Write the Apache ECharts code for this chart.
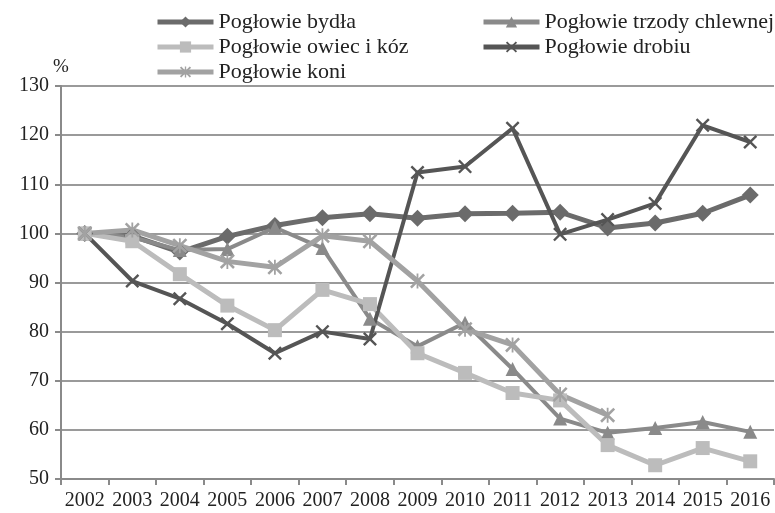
<!DOCTYPE html>
<html><head><meta charset="utf-8">
<script src="https://cdn.jsdelivr.net/npm/echarts@6/dist/echarts.min.js"></script>
<style>html,body{margin:0;padding:0;background:#fff}#c{width:775px;height:513px}</style>
</head><body><div id="c"></div>
<script>
const years = ['2002','2003','2004','2005','2006','2007','2008','2009','2010','2011','2012','2013','2014','2015','2016'];
const bydlo  = [100, 99.5, 96.2, 99.4, 101.6, 103.2, 104.0, 103.1, 104.0, 104.1, 104.3, 101.1, 102.1, 104.1, 107.8];
const trzoda = [100, 99.2, 96.6, 96.8, 101.2, 97.0, 82.6, 77.0, 81.8, 72.4, 62.3, 59.4, 60.4, 61.6, 59.6];
const owce   = [100, 98.4, 91.7, 85.3, 80.3, 88.5, 85.6, 75.6, 71.6, 67.5, 66.0, 56.9, 52.8, 56.3, 53.6];
const drob   = [100, 90.3, 86.7, 81.6, 75.6, 80.0, 78.5, 112.4, 113.6, 121.4, 99.8, 102.8, 106.1, 122.0, 118.6];
const koni   = [100, 100.7, 97.5, 94.3, 93.1, 99.5, 98.4, 90.3, 80.5, 77.3, 67.2, 63.0, null, null, null];
const names = ['Pogłowie bydła','Pogłowie trzody chlewnej','Pogłowie owiec i kóz','Pogłowie drobiu','Pogłowie koni'];

const XMARK = 'path://M0,1.2 L1.2,0 L5,3.8 L8.8,0 L10,1.2 L6.2,5 L10,8.8 L8.8,10 L5,6.2 L1.2,10 L0,8.8 L3.8,5 Z';
const STAR = 'path://M0,1.2 L1.2,0 L5,3.8 L8.8,0 L10,1.2 L6.2,5 L10,8.8 L8.8,10 L5,6.2 L1.2,10 L0,8.8 L3.8,5 Z M4.4,0 L5.6,0 L5.6,10 L4.4,10 Z';
const FONT = 'Liberation Serif';

function mk(name, data, color, symbol, size, width) {
  return {
    name, type: 'line', data, symbol, symbolSize: size, showSymbol: true,
    lineStyle: { color, width }, itemStyle: { color, borderWidth: 0 },
    emphasis: { disabled: true }, z: 2
  };
}
const legText = { fontFamily: FONT, fontSize: 22, color: '#222' };

const chart = echarts.init(document.getElementById('c'));
chart.setOption({
  animation: false,
  backgroundColor: '#fff',
  grid: { left: 61, right: 1, top: 86, bottom: 34, containLabel: false },
  legend: [
    { data: [names[0], names[2], names[4]], left: 150, top: 6, orient: 'vertical', itemGap: 3,
      itemWidth: 56, itemHeight: 14, lineStyle: { width: 5 }, textStyle: legText },
    { data: [names[1], names[3]], left: 476, top: 6, orient: 'vertical', itemGap: 3,
      itemWidth: 56, itemHeight: 14, lineStyle: { width: 5 }, textStyle: legText }
  ],
  xAxis: {
    type: 'category', data: years, boundaryGap: true,
    axisLine: { lineStyle: { color: '#8a8a8a', width: 2 } },
    axisTick: { show: true, length: 6, alignWithLabel: false, lineStyle: { color: '#8a8a8a', width: 2 } },
    axisLabel: { fontFamily: FONT, fontSize: 20, color: '#222', margin: 12, interval: 0 },
    splitLine: { show: false }
  },
  yAxis: {
    type: 'value', min: 50, max: 130, interval: 10,
    name: '%', nameLocation: 'end', nameGap: 8,
    nameTextStyle: { fontFamily: FONT, fontSize: 19, color: '#222', align: 'center' },
    axisLine: { show: true, lineStyle: { color: '#8a8a8a', width: 2 } },
    axisTick: { show: true, length: 6, lineStyle: { color: '#8a8a8a', width: 2 } },
    axisLabel: { fontFamily: FONT, fontSize: 20, color: '#222', margin: 12 },
    splitLine: { show: true, lineStyle: { color: '#9a9a9a', width: 2 } }
  },
  series: [
    mk(names[0], bydlo, '#6b6b6b', 'diamond', 17, 5),
    mk(names[1], trzoda, '#8a8a8a', 'triangle', 14, 4),
    mk(names[2], owce, '#bcbcbc', 'rect', 14, 5),
    mk(names[3], drob, '#555555', XMARK, 14, 4),
    mk(names[4], koni, '#a2a2a2', STAR, 15, 5)
  ]
});
</script></body></html>
